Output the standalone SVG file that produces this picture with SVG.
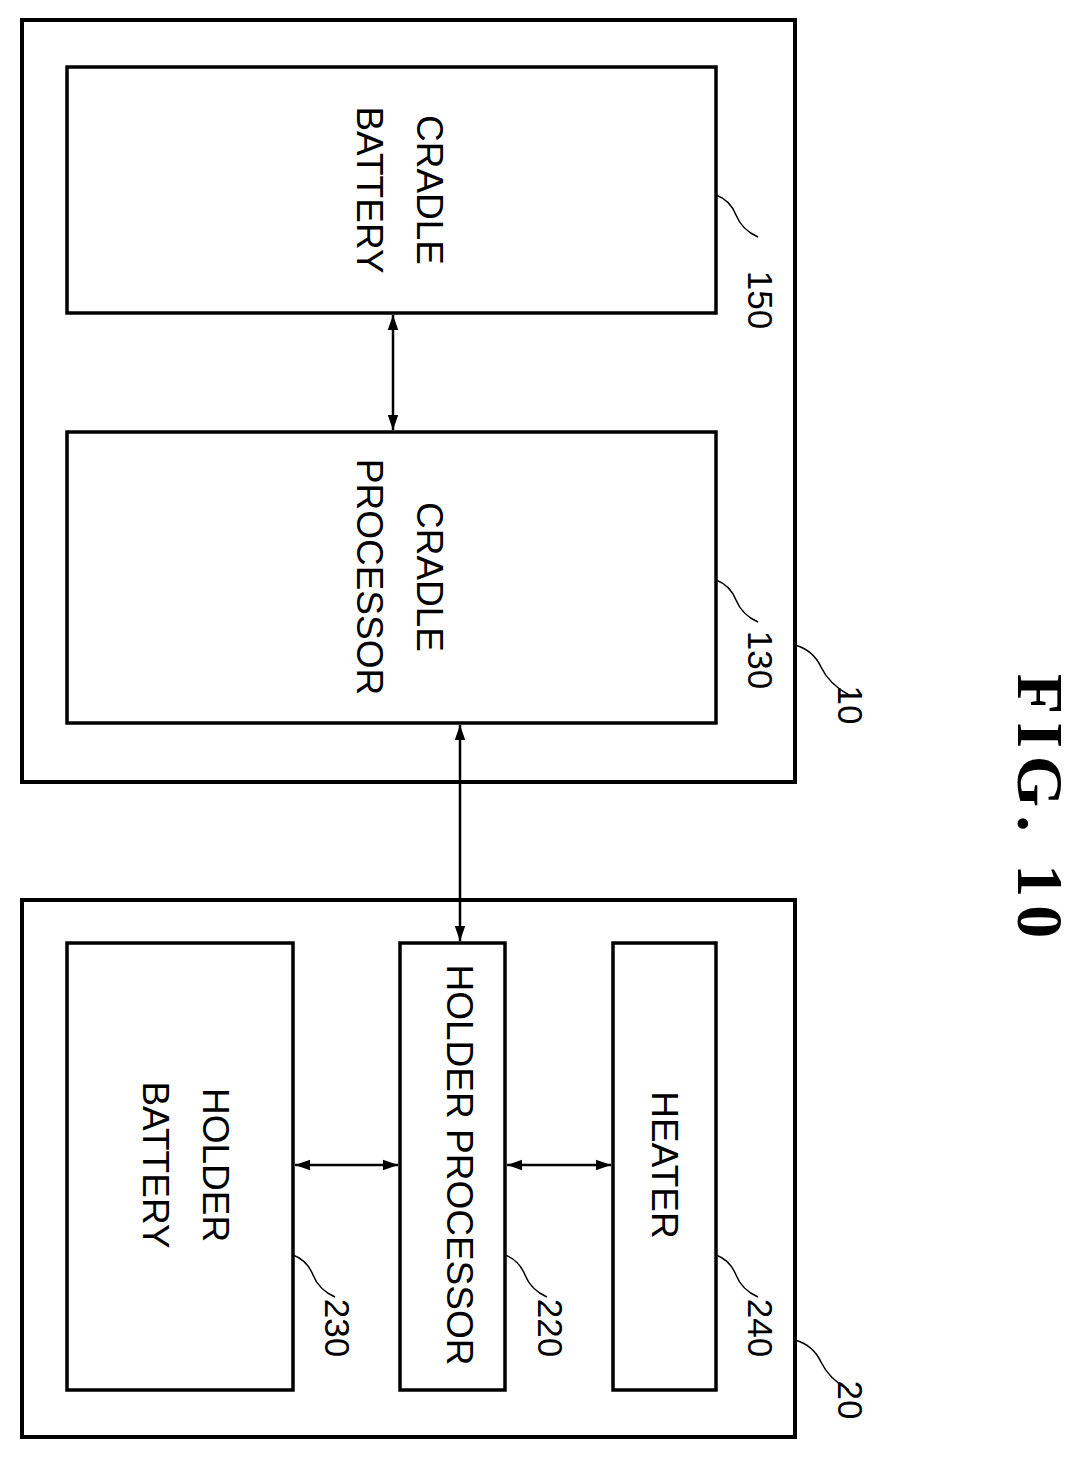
<svg xmlns="http://www.w3.org/2000/svg" width="1089" height="1470" viewBox="0 0 1089 1470">
<style>
.box{fill:#fff;stroke:#000;stroke-width:3.5}
.outer{fill:none;stroke:#000;stroke-width:4}
.t{font-family:"Liberation Sans",Arial,sans-serif;font-size:37px;text-anchor:middle}
.n{font-family:"Liberation Sans",Arial,sans-serif;font-size:35px;text-anchor:middle}
.ld{fill:none;stroke:#000;stroke-width:1.5}
.c{stroke:#000;stroke-width:2.5;fill:none;marker-start:url(#a);marker-end:url(#a)}
</style>
<defs>
<marker id="a" viewBox="0 0 10 10" refX="10" refY="5" markerWidth="6" markerHeight="6" orient="auto-start-reverse" markerUnits="strokeWidth"><path d="M0,1.5 L10,5 L0,8.5 Z"/></marker>
</defs>
<g id="n10"><rect class="outer" x="22" y="20" width="773" height="762"/>
<path class="ld" d="M795,645 q18,5 26,22 t28,28"/><text class="n" transform="translate(838,705) rotate(90)">10</text></g>
<g id="n150"><rect class="box" x="67" y="67" width="649" height="246"/>
<text class="t" transform="translate(417,190) rotate(90)">CRADLE</text>
<text class="t" transform="translate(357,190) rotate(90)">BATTERY</text>
<path class="ld" d="M716,195 q14,5 20,20 t22,22"/><text class="n" transform="translate(748,300) rotate(90)">150</text></g>
<g id="n130"><rect class="box" x="67" y="432" width="649" height="291"/>
<text class="t" transform="translate(417,577) rotate(90)">CRADLE</text>
<text class="t" transform="translate(357,577) rotate(90)">PROCESSOR</text>
<path class="ld" d="M716,580 q14,5 20,20 t22,22"/><text class="n" transform="translate(748,660) rotate(90)">130</text></g>
<g id="n20"><rect class="outer" x="22" y="900" width="773" height="537"/>
<path class="ld" d="M795,1340 q18,5 26,22 t28,28"/><text class="n" transform="translate(838,1400) rotate(90)">20</text></g>
<g id="n230"><rect class="box" x="67" y="943" width="226" height="447"/>
<text class="t" transform="translate(203,1165) rotate(90)">HOLDER</text>
<text class="t" transform="translate(143,1165) rotate(90)">BATTERY</text>
<path class="ld" d="M293,1255 q14,5 20,20 t22,22"/><text class="n" transform="translate(325,1328) rotate(90)">230</text></g>
<g id="n220"><rect class="box" x="400" y="943" width="105" height="447"/>
<text class="t" transform="translate(447,1165) rotate(90)">HOLDER PROCESSOR</text>
<path class="ld" d="M505,1255 q14,5 20,20 t22,22"/><text class="n" transform="translate(538,1328) rotate(90)">220</text></g>
<g id="n240"><rect class="box" x="613" y="943" width="103" height="447"/>
<text class="t" transform="translate(652,1165) rotate(90)">HEATER</text>
<path class="ld" d="M716,1255 q14,5 20,20 t22,22"/><text class="n" transform="translate(748,1328) rotate(90)">240</text></g>
<g id="connectors">
<line class="c" x1="393" y1="315" x2="393" y2="430"/>
<line class="c" x1="460" y1="725" x2="460" y2="941"/>
<line class="c" x1="295" y1="1165" x2="398" y2="1165"/>
<line class="c" x1="507" y1="1165" x2="611" y2="1165"/>
</g>
<text transform="translate(1018,810) rotate(90)" style="font-family:'Liberation Serif',serif;font-size:66px;font-weight:bold;text-anchor:middle;letter-spacing:8px">FIG. 10</text>
</svg>
